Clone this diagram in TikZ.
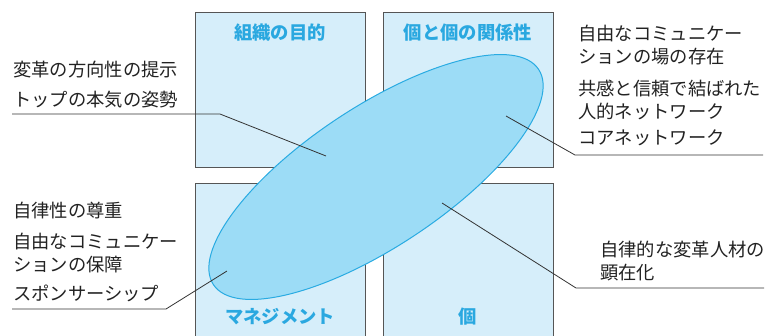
\documentclass[tikz,border=0pt]{standalone}
\usepackage{fontspec}
\setmainfont{Noto Sans CJK JP}
\definecolor{boxfill}{HTML}{D6EEFA}
\definecolor{boxline}{HTML}{555555}
\definecolor{ellfill}{HTML}{9CDCF6}
\definecolor{ellline}{HTML}{29ABE2}
\definecolor{titleblue}{HTML}{2AA8E0}
\definecolor{textdark}{HTML}{222222}
\definecolor{leadcol}{HTML}{333333}
\begin{document}
\begin{tikzpicture}[x=1pt,y=-1pt,
  quad/.style={draw=boxline, fill=boxfill, line width=1.2pt, minimum width=170pt, minimum height=155pt, anchor=north west, inner sep=0pt},
  quadtitle/.style={text=titleblue, font=\bfseries\fontsize{18.3}{20}\selectfont, inner sep=0pt},
  lbl/.style={text=textdark, font=\fontsize{18.3}{23}\selectfont, inner sep=0pt, anchor=west, align=left},
  leader/.style={draw=leadcol, line width=0.8pt},
  oval/.style={fill=ellfill, draw=ellline, line width=1pt}]
\useasboundingbox (0,0) rectangle (768,335);
\clip (0,0) rectangle (768,335);
% quadrants
\node[quad] (qtl) at (195,12) {};
\node[quad] (qtr) at (383,12) {};
\node[quad, minimum height=170pt] (qbl) at (195,183) {};
\node[quad, minimum height=170pt] (qbr) at (383,183) {};
% ellipse
\draw[oval, rotate around={33.5:(376,177)}] (376,177) ellipse [x radius=195, y radius=70];
% titles
\node[quadtitle] (t1) at (280,33) {組織の目的};
\node[quadtitle] (t2) at (468,33) {個と個の関係性};
\node[quadtitle] (t3) at (280,317) {マネジメント};
\node[quadtitle] (t4) at (468,317) {個};
% labels
\node[lbl] (a1) at (13,70) {変革の方向性の提示};
\node[lbl] (a2) at (13,100) {トップの本気の姿勢};
\node[lbl] (b1) at (578,45.5) {自由なコミュニケー\\ションの場の存在};
\node[lbl] (b2) at (578,100) {共感と信頼で結ばれた\\人的ネットワーク};
\node[lbl] (b3) at (578,138) {コアネットワーク};
\node[lbl] (c1) at (13,211) {自律性の尊重};
\node[lbl] (c2) at (13,253) {自由なコミュニケー\\ションの保障};
\node[lbl] (c3) at (13,293) {スポンサーシップ};
\node[lbl] (d1) at (600,261.5) {自律的な変革人材の\\顕在化};
% leader coordinates
\coordinate (l1s) at (12,114);
\coordinate (l1k) at (220,114);
\coordinate (l1e) at (326,156);
\coordinate (r1s) at (763,155);
\coordinate (r1k) at (575,155);
\coordinate (r1e) at (506,116);
\coordinate (l2s) at (12,309);
\coordinate (l2k) at (166,309);
\coordinate (l2e) at (227,271);
\coordinate (r2s) at (764,288);
\coordinate (r2k) at (576,288);
\coordinate (r2e) at (442,203);
\draw[leader] (l1s) -- (l1k) -- (l1e);
\draw[leader] (r1s) -- (r1k) -- (r1e);
\draw[leader] (l2s) -- (l2k) -- (l2e);
\draw[leader] (r2s) -- (r2k) -- (r2e);
\end{tikzpicture}
\end{document}
